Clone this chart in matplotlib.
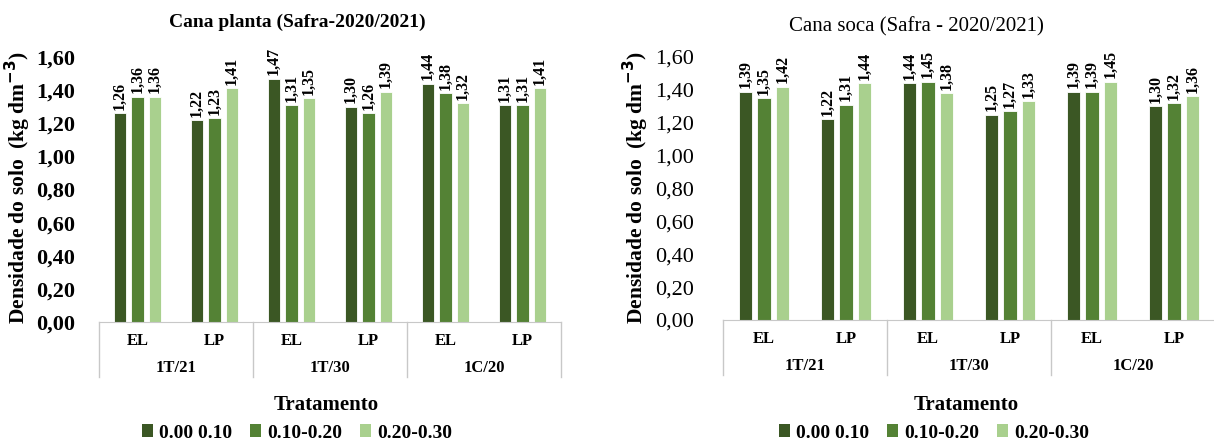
import numpy as np
import matplotlib
matplotlib.use("Agg")
import matplotlib.pyplot as plt
from matplotlib.patches import Patch
from matplotlib.ticker import FuncFormatter

plt.rcParams['font.family'] = ['Liberation Serif', 'DejaVu Serif']

# dados
subcats = ["EL", "LP", "EL", "LP", "EL", "LP"]
groups = ["1T/21", "1T/30", "1C/20"]
layers = ["0.00 0.10", "0.10-0.20", "0.20-0.30"]
colors = ["#3B5724", "#548235", "#A9D08E"]

planta_00_10 = [1.26, 1.22, 1.47, 1.30, 1.44, 1.31]
planta_10_20 = [1.36, 1.23, 1.31, 1.26, 1.38, 1.31]
planta_20_30 = [1.36, 1.41, 1.35, 1.39, 1.32, 1.41]

soca_00_10 = [1.39, 1.22, 1.44, 1.25, 1.39, 1.30]
soca_10_20 = [1.35, 1.31, 1.45, 1.27, 1.39, 1.32]
soca_20_30 = [1.42, 1.44, 1.38, 1.33, 1.45, 1.36]

yticks = [0.0, 0.2, 0.4, 0.6, 0.8, 1.0, 1.2, 1.4, 1.6]


def virgula(v, pos=None):
    return f"{v:.2f}".replace(".", ",")


def desenha(ax, series, tick_bold, tick_pad):
    x = np.arange(len(subcats))
    step, width = 0.228, 0.165
    for i, vals in enumerate(series):
        xs = x + (i - 1) * step
        ax.bar(xs, vals, width, color=colors[i], edgecolor="white", linewidth=0.6, zorder=2)
        for xi, v in zip(xs, vals):
            ax.text(xi, v + 0.02, virgula(v), rotation=90, ha="center", va="bottom",
                    fontsize=11.5, fontweight="bold", clip_on=False)

    ax.set_xlim(-0.5, len(subcats) - 0.5)
    ax.set_ylim(0, 1.6)
    ax.set_yticks(yticks)
    ax.yaxis.set_major_formatter(FuncFormatter(virgula))
    ax.tick_params(axis="y", length=0, labelsize=16, pad=tick_pad)
    for lab in ax.get_yticklabels():
        lab.set_fontweight("bold" if tick_bold else "normal")
    ax.set_xticks([])
    for s in ["top", "right", "left"]:
        ax.spines[s].set_visible(False)
    ax.spines["bottom"].set_color("#C8C8C8")

    # eixo de categorias em dois niveis
    trans = ax.get_xaxis_transform()
    h = ax.get_window_extent().height
    depth = -55 / h
    for xv in [-0.5, 1.5, 3.5, 5.5]:
        ax.plot([xv, xv], [0, depth], transform=trans, color="#C8C8C8", lw=1, clip_on=False)
    for xi, lab in enumerate(subcats):
        ax.text(xi, -19 / h, lab, transform=trans, ha="center", va="center",
                fontsize=12, fontweight="bold")
    for gi, lab in enumerate(groups):
        ax.text(2 * gi + 0.5, -46 / h, lab, transform=trans, ha="center", va="center",
                fontsize=12, fontweight="bold")


fig = plt.figure(figsize=(12.14, 4.43), dpi=100)
W, H = 1214, 443

ax1 = fig.add_axes([99 / W, 1 - 322 / H, 462 / W, 265 / H])
ax2 = fig.add_axes([723 / W, 1 - 320 / H, 492 / W, 263 / H])

desenha(ax1, [planta_00_10, planta_10_20, planta_20_30], True, 17)
desenha(ax2, [soca_00_10, soca_10_20, soca_20_30], False, 21)

ylabel = "Densidade do solo  (kg dm$^{\\mathbf{-3}}$)"
fig.text(18 / W, 1 - 188 / H, ylabel, rotation=90, ha="center", va="center",
         fontsize=15.5, fontweight="bold")
fig.text(636 / W, 1 - 188 / H, ylabel, rotation=90, ha="center", va="center",
         fontsize=15.5, fontweight="bold")

fig.text(297 / W, 1 - 22 / H, "Cana planta (Safra-2020/2021)", ha="center", va="center",
         fontsize=14, fontweight="bold")
fig.text(916 / W, 1 - 27 / H, "Cana soca (Safra - 2020/2021)", ha="center", va="center",
         fontsize=15)

fig.text(326 / W, 1 - 405 / H, "Tratamento", ha="center", va="center",
         fontsize=15, fontweight="bold")
fig.text(966 / W, 1 - 405 / H, "Tratamento", ha="center", va="center",
         fontsize=15, fontweight="bold")

handles = [Patch(facecolor=c, edgecolor="none") for c in colors]
for cx in [297, 934]:
    fig.legend(handles, layers, loc="center", bbox_to_anchor=(cx / W, 1 - 433 / H),
               ncol=3, frameon=False, handlelength=0.6, handleheight=0.6,
               handletextpad=0.3, columnspacing=0.9,
               prop={"family": "Liberation Serif", "weight": "bold", "size": 14})

fig.savefig("out.png", dpi=100)
